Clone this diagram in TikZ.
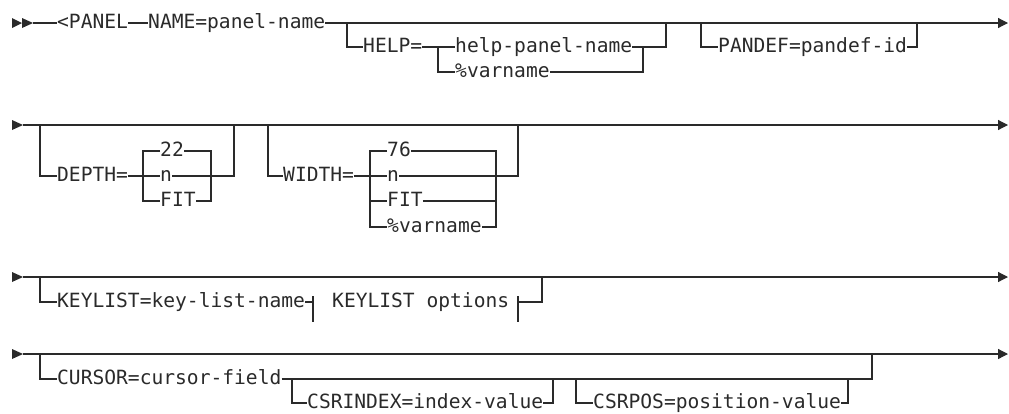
\documentclass[tikz,border=0pt]{standalone}
\usepackage{fontspec}
\setmonofont{DejaVu Sans Mono}
\usetikzlibrary{arrows.meta}

\definecolor{ink}{HTML}{2A2A2A}

\begin{document}
\begin{tikzpicture}[x=1pt, y=-1pt,
  rail/.style={draw=ink, line width=1.2pt},
  kw/.style={inner sep=0pt, anchor=west, text height=10.6pt, text depth=0pt, text=ink,
    font=\ttfamily\fontsize{19.6}{21}\selectfont},
  endarr/.style={rail, -{Triangle[length=10pt, width=10pt]}},
  headtri/.style={fill=ink}
]
\useasboundingbox (0,0) rectangle (1009,413);

% Row 1
\fill[headtri] (12,18) -- (22,23) -- (12,28) -- cycle;
\fill[headtri] (22,18) -- (33,23) -- (22,28) -- cycle;
\coordinate (s1) at (33,23);
\coordinate (e1) at (1008,23);
\node[kw] (panel) at (57,23) {<PANEL};
\node[kw] (name) at (148,23) {NAME=panel-name};
\draw[rail] (s1) -- (panel.west);
\draw[rail] (panel.east) -- (name.west);
\draw[endarr] (name.east) -- (e1);

\coordinate (h0) at (347,23);
\coordinate (h1) at (666,23);
\coordinate (hf) at (438,47);
\coordinate (hg) at (643,47);
\node[kw] (help) at (363,47) {HELP=};
\node[kw] (hpn) at (455,47) {help-panel-name};
\node[kw] (hvar) at (455,72) {\%varname};
\draw[rail] (h0) |- (help.west);
\draw[rail] (help.east) -- (hpn.west);
\draw[rail] (hf) |- (hvar.west);
\draw[rail] (hpn.east) -| (h1);
\draw[rail] (hvar.east) -| (hg);

\coordinate (p0) at (701,23);
\coordinate (p1) at (917,23);
\node[kw] (pandef) at (718,47) {PANDEF=pandef-id};
\draw[rail] (p0) |- (pandef.west);
\draw[rail] (pandef.east) -| (p1);

% Row 2
\fill[headtri] (12,120) -- (23,125) -- (12,130) -- cycle;
\coordinate (s2) at (23,125);
\coordinate (e2) at (1008,125);
\draw[endarr] (s2) -- (e2);

\coordinate (d0) at (40,125);
\coordinate (d1) at (234,125);
\coordinate (dl) at (143,151);
\coordinate (dr) at (211,151);
\node[kw] (depth) at (57,176) {DEPTH=};
\node[kw] (d22) at (160,151) {22};
\node[kw] (dn) at (160,176) {n};
\node[kw] (dfit) at (160,201) {FIT};
\draw[rail] (d0) |- (depth.west);
\draw[rail] (depth.east) -- (dn.west);
\draw[rail] (d22.west) -- (dl) |- (dfit.west);
\draw[rail] (d22.east) -- (dr) |- (dfit.east);
\draw[rail] (dn.east) -| (d1);

\coordinate (w0) at (268,125);
\coordinate (w1) at (518,125);
\coordinate (wl) at (370,151);
\coordinate (wr) at (496,151);
\node[kw] (width) at (283,176) {WIDTH=};
\node[kw] (w76) at (387,151) {76};
\node[kw] (wn) at (387,176) {n};
\node[kw] (wfit) at (387,201) {FIT};
\node[kw] (wvar) at (387,227) {\%varname};
\draw[rail] (w0) |- (width.west);
\draw[rail] (width.east) -- (wn.west);
\draw[rail] (w76.west) -- (wl) |- (wvar.west);
\draw[rail] (wl |- wfit) -- (wfit.west);
\draw[rail] (w76.east) -- (wr) |- (wvar.east);
\draw[rail] (wfit.east) -- (wr |- wfit);
\draw[rail] (wn.east) -| (w1);

% Row 3
\fill[headtri] (12,272) -- (23,277) -- (12,282) -- cycle;
\coordinate (s3) at (23,277);
\coordinate (e3) at (1008,277);
\draw[endarr] (s3) -- (e3);

\coordinate (k0) at (40,277);
\coordinate (k1) at (542,277);
\coordinate (kf1) at (313,302);
\coordinate (kf2) at (518,302);
\node[kw] (keylist) at (57,302) {KEYLIST=key-list-name};
\node[kw] (kopts) at (332,302) {KEYLIST options};
\draw[rail] (k0) |- (keylist.west);
\draw[rail] (keylist.east) -- (kf1);
\draw[rail] ([yshift=6pt]kf1) -- ([yshift=-20pt]kf1);
\draw[rail] ([yshift=6pt]kf2) -- ([yshift=-20pt]kf2);
\draw[rail] (kf2) -| (k1);

% Row 4
\fill[headtri] (12,349) -- (23,354) -- (12,359) -- cycle;
\coordinate (s4) at (23,354);
\coordinate (e4) at (1008,354);
\draw[endarr] (s4) -- (e4);

\coordinate (c0) at (40,354);
\coordinate (c1) at (872,354);
\node[kw] (cursor) at (57,379) {CURSOR=cursor-field};
\draw[rail] (c0) |- (cursor.west);
\draw[rail] (cursor.east) -| (c1);

\coordinate (ci0) at (292,379);
\coordinate (ci1) at (553,379);
\node[kw] (csrindex) at (307,403) {CSRINDEX=index-value};
\draw[rail] (ci0) |- (csrindex.west);
\draw[rail] (csrindex.east) -| (ci1);

\coordinate (cp0) at (576,379);
\coordinate (cp1) at (848,379);
\node[kw] (csrpos) at (593,403) {CSRPOS=position-value};
\draw[rail] (cp0) |- (csrpos.west);
\draw[rail] (csrpos.east) -| (cp1);

\end{tikzpicture}
\end{document}
